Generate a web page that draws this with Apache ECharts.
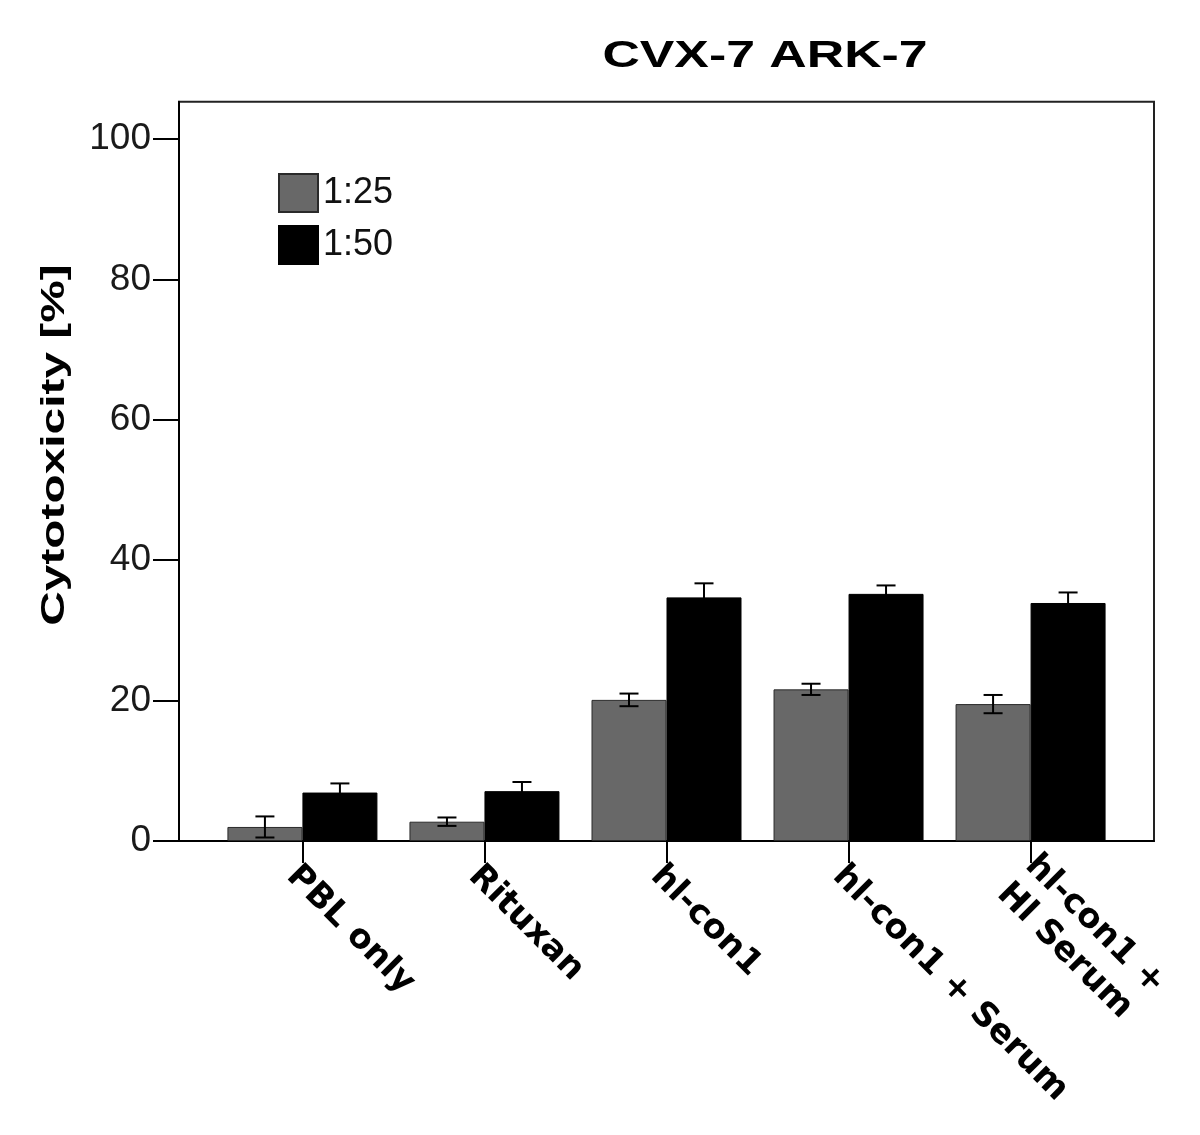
<!DOCTYPE html>
<html>
<head>
<meta charset="utf-8">
<script src="https://cdn.jsdelivr.net/npm/echarts@6/dist/echarts.min.js"></script>
<style>html,body{margin:0;padding:0;background:#fff}#c{width:1200px;height:1135px}</style>
</head>
<body>
<div id="c"></div>
<script>
var categories = ['PBL only', 'Rituxan', 'hl-con1', 'hl-con1 + Serum', 'hl-con1 +\nHl Serum'];
var seriesNames = ['1:25', '1:50'];
var values125 = [2.0, 2.75, 20.1, 21.6, 19.5];
var errors125 = [1.5, 0.6, 0.9, 0.8, 1.3];
var values150 = [6.9, 7.1, 34.7, 35.2, 33.9];
var errors150 = [1.3, 1.3, 2.0, 1.2, 1.5];
var yTicks = [0, 20, 40, 60, 80, 100];
var chartTitle = 'CVX-7 ARK-7';
var yAxisTitle = 'Cytotoxicity [%]';

var BAR_W = 75;
var GREY = '#686868';

function barData(vals) { return vals.map(function (v, i) { return [i, v]; }); }
function errData(vals, errs, side) {
  return vals.map(function (v, i) { return [i, v - errs[i], v + errs[i], side]; });
}

function errRender(params, api) {
  var x = api.value(0), lo = api.value(1), hi = api.value(2), side = api.value(3);
  var pLo = api.coord([x, lo]);
  var pHi = api.coord([x, hi]);
  var cx = pLo[0] + side * BAR_W / 2;
  var cap = 9.5;
  var st = { stroke: '#000', lineWidth: 2 };
  return {
    type: 'group',
    children: [
      { type: 'line', shape: { x1: cx, y1: pLo[1], x2: cx, y2: pHi[1] }, style: st },
      { type: 'line', shape: { x1: cx - cap, y1: pHi[1], x2: cx + cap, y2: pHi[1] }, style: st },
      { type: 'line', shape: { x1: cx - cap, y1: pLo[1], x2: cx + cap, y2: pLo[1] }, style: st }
    ]
  };
}

function catLabel(v) {
  var lines = categories[Math.round(v)].split('\n');
  if (lines.length === 1) return '{g| }\n{a|' + lines[0] + '}';
  return '{a|' + lines[0] + '}\n{b|' + lines[1] + '}';
}

var labelFont = { fontFamily: '"DejaVu Sans", sans-serif', fontWeight: 'bold', fontSize: 34, color: '#000' };

var chart = echarts.init(document.getElementById('c'), null, { renderer: 'canvas' });
chart.setOption({
  animation: false,
  backgroundColor: '#fff',
  graphic: [
    { type: 'text', x: 765, y: 57, scaleX: 1.4,
      style: { text: chartTitle, font: 'bold 37px "Liberation Sans", Arial, sans-serif',
               textAlign: 'center', textVerticalAlign: 'middle', fill: '#000' } },
    { type: 'text', x: 55, y: 445, rotation: Math.PI / 2, scaleX: 1.45,
      style: { text: yAxisTitle, font: 'bold 33px "Liberation Sans", Arial, sans-serif',
               textAlign: 'center', textVerticalAlign: 'middle', fill: '#000' } }
  ],
  legend: {
    data: seriesNames,
    orient: 'vertical',
    left: 278, top: 173, padding: 0,
    itemWidth: 39, itemHeight: 38, itemGap: 12,
    icon: 'rect',
    textStyle: { fontFamily: '"Liberation Sans", Arial, sans-serif', fontSize: 36, color: '#111' }
  },
  grid: {
    left: 179, right: 46, top: 101.7, bottom: 294,
    show: true, borderColor: '#222', borderWidth: 2, backgroundColor: '#fff'
  },
  xAxis: {
    type: 'value',
    min: -0.678, max: 4.678,
    splitLine: { show: false },
    axisLine: { show: true, onZero: false, lineStyle: { color: '#000', width: 2 } },
    axisTick: { show: true, customValues: [0, 1, 2, 3, 4], length: 22, lineStyle: { color: '#000', width: 2 } },
    axisLabel: {
      customValues: [0, 1, 2, 3, 4],
      formatter: catLabel,
      rotate: -45, margin: -6,
      align: 'left', verticalAlign: 'top',
      padding: [0, 0, 0, 18],
      rich: {
        g: { fontSize: 8, lineHeight: 15 },
        a: Object.assign({ lineHeight: 36 }, labelFont),
        b: Object.assign({ lineHeight: 44 }, labelFont)
      }
    }
  },
  yAxis: {
    type: 'value',
    min: 0, max: 105.3,
    splitLine: { show: false },
    axisLine: { show: true, onZero: false, lineStyle: { color: '#000', width: 2 } },
    axisTick: { show: true, customValues: yTicks, length: 26, lineStyle: { color: '#000', width: 2 } },
    axisLabel: {
      customValues: yTicks, margin: 28,
      fontFamily: '"Liberation Sans", Arial, sans-serif', fontSize: 37, color: '#1a1a1a'
    }
  },
  series: [
    { name: seriesNames[0], type: 'bar', data: barData(values125), barWidth: BAR_W, barGap: '0%',
      itemStyle: { color: GREY, borderColor: '#2a2a2a', borderWidth: 1 } },
    { name: seriesNames[1], type: 'bar', data: barData(values150), barWidth: BAR_W, barGap: '0%',
      itemStyle: { color: '#000', borderColor: '#000', borderWidth: 1 } },
    { type: 'custom', data: errData(values125, errors125, -1), renderItem: errRender, z: 10, silent: true },
    { type: 'custom', data: errData(values150, errors150, 1), renderItem: errRender, z: 10, silent: true }
  ]
});
</script>
</body>
</html>
